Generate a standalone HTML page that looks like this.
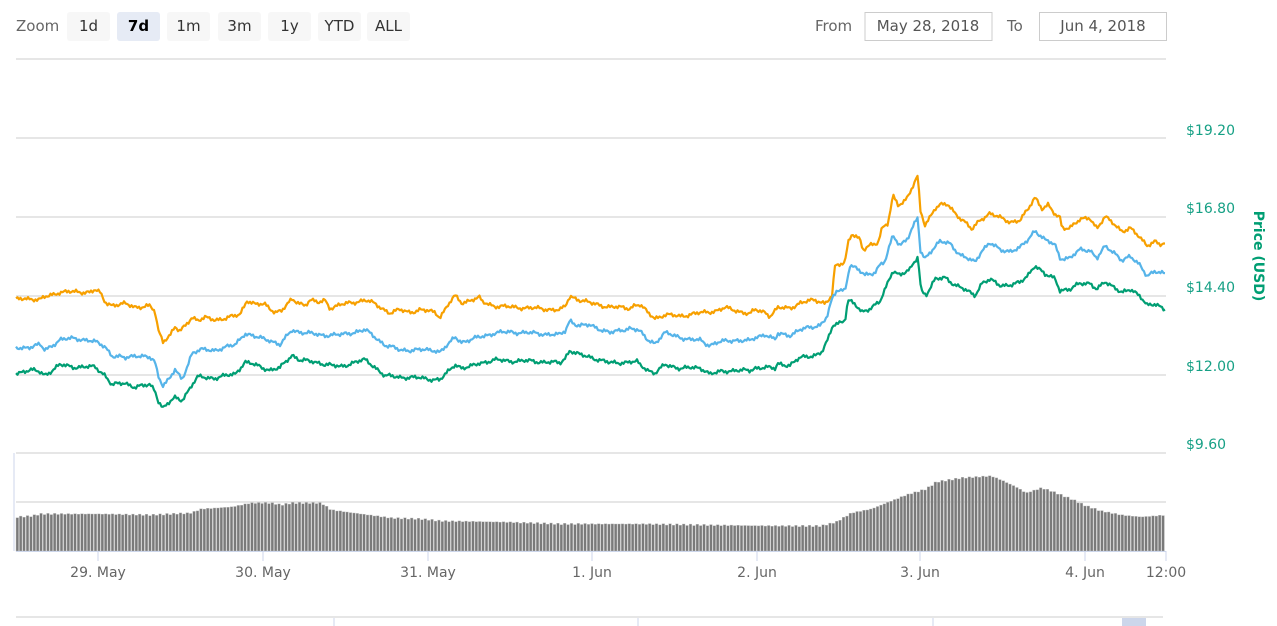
<!DOCTYPE html>
<html><head><meta charset="utf-8"><style>
html,body{margin:0;padding:0;background:#fff;width:1277px;height:626px;overflow:hidden}
svg{display:block}
text{font-family:"DejaVu Sans","Liberation Sans",sans-serif}
</style></head><body>
<svg id="s" width="1277" height="626" xmlns="http://www.w3.org/2000/svg">
<text x="16" y="31" font-size="15" fill="#666">Zoom</text>
<rect x="67" y="12" width="43" height="29" rx="3" fill="#f7f7f7"/>
<text x="88.5" y="31" font-size="15" fill="#333" text-anchor="middle">1d</text>
<rect x="117" y="12" width="43" height="29" rx="3" fill="#e6ebf5"/>
<text x="138.5" y="31" font-size="15" fill="#000" font-weight="bold" text-anchor="middle">7d</text>
<rect x="167" y="12" width="43" height="29" rx="3" fill="#f7f7f7"/>
<text x="188.5" y="31" font-size="15" fill="#333" text-anchor="middle">1m</text>
<rect x="218" y="12" width="43" height="29" rx="3" fill="#f7f7f7"/>
<text x="239.5" y="31" font-size="15" fill="#333" text-anchor="middle">3m</text>
<rect x="268" y="12" width="43" height="29" rx="3" fill="#f7f7f7"/>
<text x="289.5" y="31" font-size="15" fill="#333" text-anchor="middle">1y</text>
<rect x="318" y="12" width="43" height="29" rx="3" fill="#f7f7f7"/>
<text x="339.5" y="31" font-size="15" fill="#333" text-anchor="middle">YTD</text>
<rect x="367" y="12" width="43" height="29" rx="3" fill="#f7f7f7"/>
<text x="388.5" y="31" font-size="15" fill="#333" text-anchor="middle">ALL</text>
<text x="815" y="31" font-size="15" fill="#666">From</text>
<rect x="865" y="12.5" width="127" height="28" fill="#fff" stroke="#ccc"/>
<text x="928" y="31" font-size="15" fill="#555" text-anchor="middle">May 28, 2018</text>
<text x="1007" y="31" font-size="15" fill="#666">To</text>
<rect x="1039.5" y="12.5" width="127" height="28" fill="#fff" stroke="#ccc"/>
<text x="1103" y="31" font-size="15" fill="#555" text-anchor="middle">Jun 4, 2018</text>
<g stroke="#e6e6e6" stroke-width="2">
<line x1="16" y1="59" x2="1166" y2="59"/>
<line x1="16" y1="138" x2="1166" y2="138"/>
<line x1="16" y1="217" x2="1166" y2="217"/>
<line x1="16" y1="296" x2="1166" y2="296"/>
<line x1="16" y1="375" x2="1166" y2="375"/>
<line x1="16" y1="453" x2="1166" y2="453"/>
<line x1="16" y1="502" x2="1166" y2="502"/>
<line x1="16" y1="617" x2="1163" y2="617"/>
</g>
<g font-size="14" fill="#16a085" text-anchor="start">
<text x="1186" y="135">$19.20</text>
<text x="1186" y="213">$16.80</text>
<text x="1186" y="292">$14.40</text>
<text x="1186" y="371">$12.00</text>
<text x="1186" y="449">$9.60</text>
</g>
<text transform="translate(1254,256) rotate(90)" font-size="14" font-weight="bold" fill="#009e73" text-anchor="middle">Price (USD)</text>
<line x1="14" y1="453" x2="14" y2="551" stroke="#ccd6eb" stroke-width="1"/>
<g id="vol"></g>
<line x1="16" y1="551.5" x2="1166" y2="551.5" stroke="#ccd6eb"/>
<g stroke="#ccd6eb">
<line x1="98" y1="551" x2="98" y2="561"/><line x1="263" y1="551" x2="263" y2="561"/>
<line x1="428" y1="551" x2="428" y2="561"/><line x1="592" y1="551" x2="592" y2="561"/>
<line x1="757" y1="551" x2="757" y2="561"/><line x1="920" y1="551" x2="920" y2="561"/>
<line x1="1085" y1="551" x2="1085" y2="561"/><line x1="1166" y1="551" x2="1166" y2="561"/>
<line x1="334" y1="618" x2="334" y2="626"/><line x1="638" y1="618" x2="638" y2="626"/><line x1="933" y1="618" x2="933" y2="626"/>
</g>
<rect x="1122" y="618" width="24" height="8" fill="#ccd6eb"/>
<g font-size="14" fill="#666" text-anchor="middle">
<text x="98" y="577">29. May</text><text x="263" y="577">30. May</text>
<text x="428" y="577">31. May</text><text x="592" y="577">1. Jun</text>
<text x="757" y="577">2. Jun</text><text x="920" y="577">3. Jun</text>
<text x="1085" y="577">4. Jun</text><text x="1166" y="577">12:00</text>
</g>
<g id="lines" fill="none" stroke-width="2.2" stroke-linejoin="round"></g>
</svg>
<script>
var O=[[16,300],[25,298],[40,300],[45,297],[60,292],[75,292],[90,292],[95,290],[100,293],[105,302],[112,305],[125,304],[135,307],[150,306],[155,312],[158,330],[163,341],[170,335],[175,327],[180,332],[185,326],[192,317],[198,320],[205,318],[215,320],[225,318],[240,315],[247,300],[255,304],[265,305],[275,312],[282,310],[292,300],[297,302],[305,305],[310,300],[318,303],[325,300],[330,308],[340,305],[355,302],[365,300],[375,304],[385,310],[390,313],[400,310],[410,312],[420,310],[435,312],[440,317],[448,305],[455,296],[462,303],[470,300],[480,298],[482,302],[495,306],[510,307],[530,308],[545,309],[560,310],[565,307],[570,296],[575,298],[580,300],[590,303],[610,307],[630,308],[635,305],[640,305],[648,313],[655,318],[665,315],[680,316],[700,313],[715,311],[725,308],[730,309],[750,314],[755,310],[765,312],[770,316],[778,308],[790,308],[800,303],[815,300],[825,303],[832,296],[835,267],[845,262],[848,242],[852,233],[860,240],[863,251],[870,245],[878,242],[882,228],[888,224],[893,196],[898,205],[905,200],[908,196],[912,188],[918,176],[920,210],[925,225],[928,220],[935,208],[940,205],[948,205],[955,213],[965,222],[972,230],[980,220],[990,213],[1000,218],[1010,222],[1020,220],[1028,210],[1035,197],[1042,208],[1048,205],[1055,215],[1060,218],[1062,228],[1070,227],[1080,220],[1090,218],[1097,228],[1105,217],[1115,225],[1122,231],[1130,228],[1140,238],[1147,245],[1155,241],[1160,245],[1165,244]];
var B=[[16,348],[30,347],[40,345],[45,350],[60,340],[75,338],[95,342],[105,346],[112,356],[125,358],[135,355],[150,358],[155,362],[158,375],[163,385],[170,378],[175,370],[182,380],[192,353],[200,350],[215,350],[235,345],[245,333],[255,337],[270,340],[280,345],[292,330],[300,332],[320,335],[340,335],[355,332],[365,330],[375,337],[385,345],[400,350],[420,350],[435,350],[440,352],[450,343],[455,337],[462,342],[470,340],[480,337],[495,333],[510,332],[530,333],[545,334],[560,335],[565,331],[570,320],[575,324],[580,326],[590,325],[610,333],[630,328],[637,330],[640,332],[648,340],[655,343],[665,333],[680,337],[690,340],[700,340],[705,343],[710,345],[720,342],[735,340],[750,341],[755,338],[765,334],[775,340],[778,334],[790,335],[800,330],[820,325],[827,317],[832,300],[837,290],[845,290],[850,265],[858,270],[865,275],[875,272],[880,265],[885,262],[893,235],[900,245],[908,238],[918,217],[920,250],[925,258],[930,252],[940,242],[950,243],[960,255],[970,260],[975,262],[982,250],[990,243],[1000,250],[1010,251],[1020,248],[1028,240],[1035,230],[1045,240],[1055,245],[1060,258],[1070,258],[1080,250],[1090,250],[1097,258],[1105,247],[1115,253],[1122,260],[1130,257],[1140,265],[1147,275],[1155,272],[1165,274]];
var G=[[16,373],[30,370],[40,372],[45,375],[60,365],[75,367],[95,367],[105,375],[112,385],[125,383],[135,387],[150,385],[155,390],[158,400],[163,408],[170,402],[175,398],[182,400],[192,385],[198,377],[215,378],[235,374],[245,362],[255,365],[270,370],[280,368],[292,355],[300,360],[320,363],[340,367],[355,362],[365,360],[375,367],[385,376],[400,377],[420,378],[440,380],[450,370],[455,364],[462,368],[470,367],[480,363],[495,360],[510,361],[530,361],[545,362],[560,363],[565,358],[570,350],[575,353],[580,355],[590,357],[610,363],[630,362],[637,362],[640,365],[648,370],[655,373],[665,365],[680,368],[700,368],[705,370],[710,374],[720,372],[735,370],[750,371],[755,368],[765,367],[775,369],[778,364],[790,365],[800,358],[815,355],[822,352],[828,340],[833,325],[845,320],[848,300],[855,305],[862,312],[870,308],[880,302],[885,290],[893,270],[900,275],[910,270],[918,256],[921,290],[926,295],[935,280],[945,277],[955,285],[965,290],[975,295],[982,283],[990,280],[1000,285],[1010,285],[1020,283],[1028,275],[1035,265],[1045,275],[1055,278],[1060,290],[1070,290],[1080,283],[1090,283],[1097,290],[1105,282],[1115,287],[1122,293],[1130,290],[1140,295],[1147,305],[1155,305],[1165,309]];
function interp(P,x){for(var i=1;i<P.length;i++){if(x<=P[i][0]){var a=P[i-1],b=P[i];var t=(x-a[0])/(b[0]-a[0]||1);return a[1]+t*(b[1]-a[1]);}}return P[P.length-1][1];}
function path(P,seed){var d="";for(var x=16;x<=1165;x+=1.5){var n=Math.sin(x*1.7+seed)*1.1+Math.sin(x*0.53+seed*2)*1.0+Math.sin(x*0.23+seed)*0.8;var y=interp(P,x)+n;d+=(d?"L":"M")+x.toFixed(1)+","+y.toFixed(1);}return d;}
var g=document.getElementById("lines"),ns="http://www.w3.org/2000/svg";
[[O,"#f7a000",1],[B,"#56b4e9",2],[G,"#009e73",3]].forEach(function(s){var p=document.createElementNS(ns,"path");p.setAttribute("d",path(s[0],s[2]));p.setAttribute("stroke",s[1]);g.appendChild(p);});
var V=[[16,517],[30,516],[40,514],[100,514],[150,515],[190,513],[200,509],[230,507],[250,503],[270,503],[280,505],[290,503],[320,503],[330,510],[360,514],[390,518],[420,519],[440,521],[500,522],[560,524],[640,524],[700,525],[780,526],[820,526],[835,522],[850,513],[870,509],[890,501],[905,495],[925,489],[935,482],[960,478],[990,476],[1000,480],[1015,487],[1025,493],[1040,488],[1050,491],[1070,499],[1085,506],[1100,511],[1120,515],[1140,517],[1165,515]];
var vg=document.getElementById("vol"),h="";
for(var x=16;x<1164;x+=3.4){var y=interp(V,x)+Math.sin(x*0.9)*0.7;h+='<rect x="'+x.toFixed(1)+'" y="'+y.toFixed(1)+'" width="2.6" height="'+(551-y).toFixed(1)+'" fill="#7a7a7a" stroke="#bdbdbd" stroke-width="0.4"/>';}
vg.innerHTML=h;
</script>
</body></html>
